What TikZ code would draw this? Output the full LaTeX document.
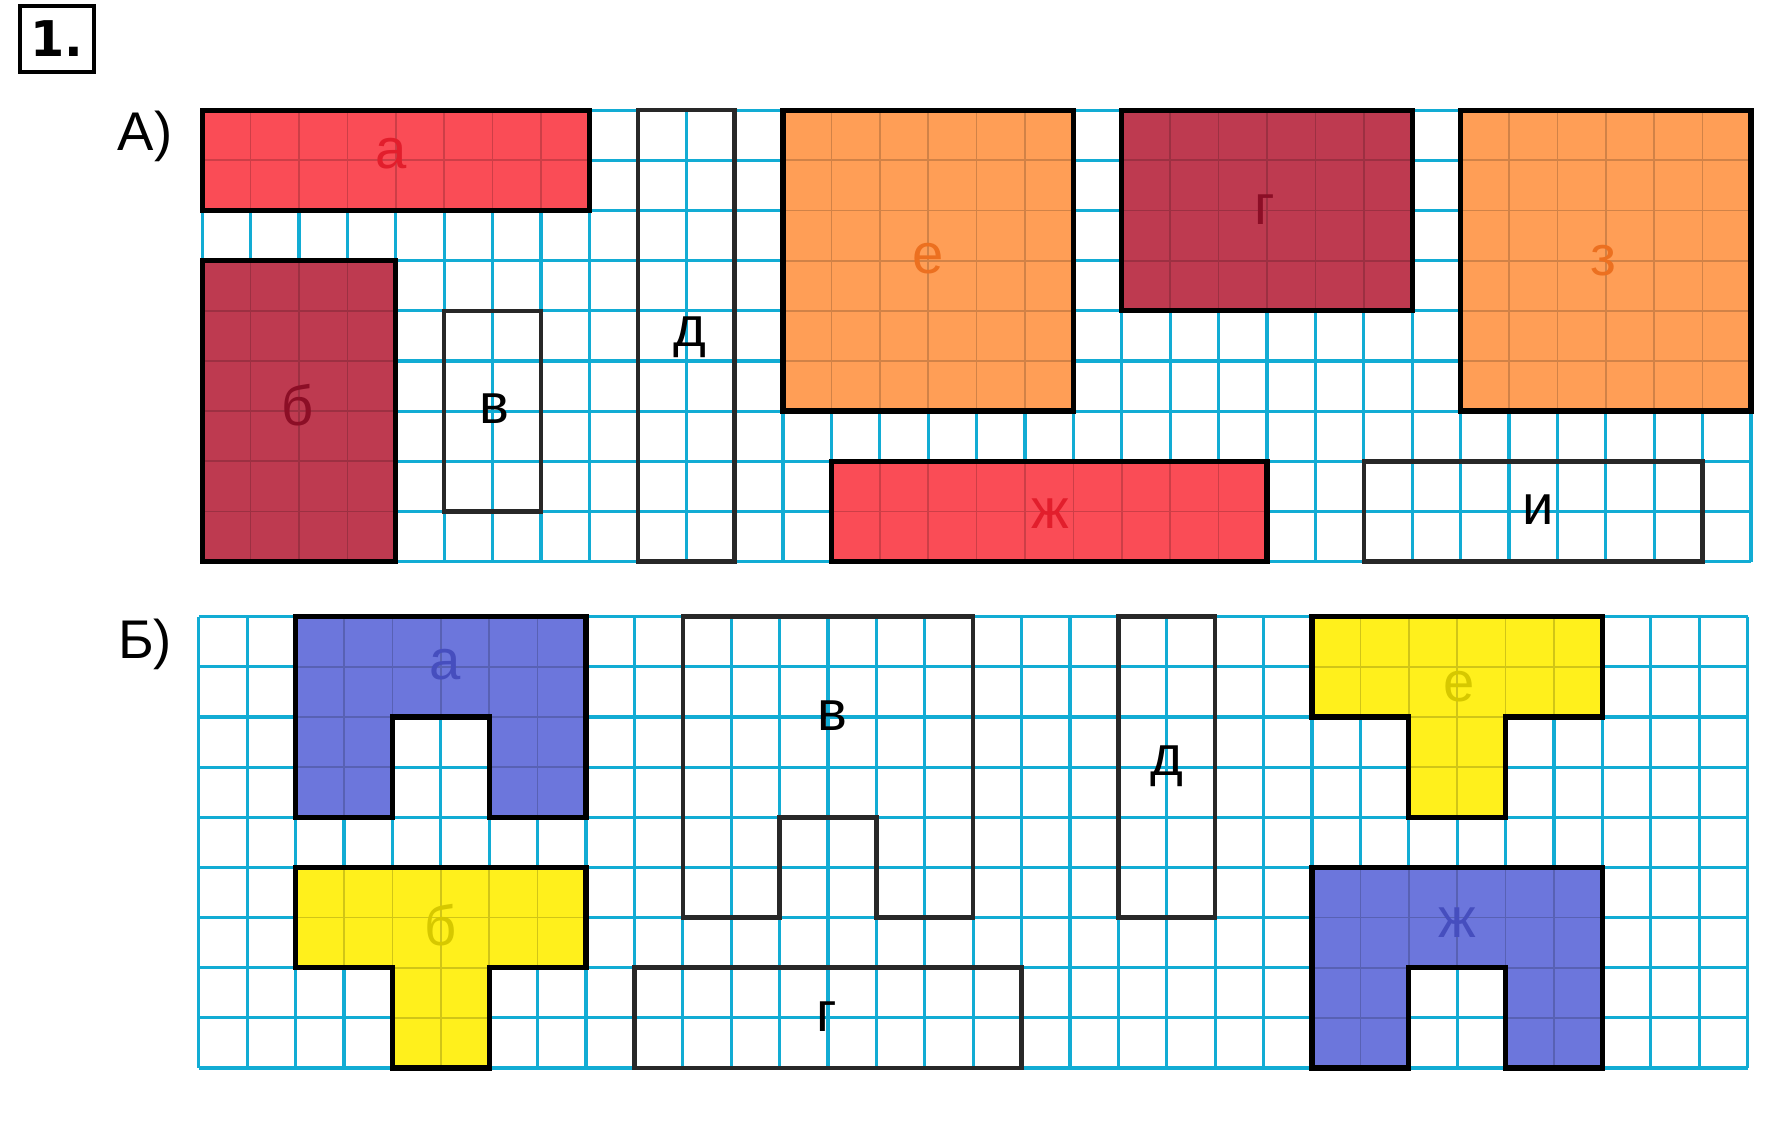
\documentclass[tikz,border=0pt]{standalone}
\usepackage{fontspec}
\setmainfont{Liberation Sans}
\newfontfamily\numfont{DejaVu Sans}

\definecolor{gridcyan}{RGB}{18,172,212}
\definecolor{figred}{RGB}{250,76,86}
\definecolor{figwine}{RGB}{190,58,80}
\definecolor{figorange}{RGB}{255,158,86}
\definecolor{figblue}{RGB}{108,118,220}
\definecolor{figyellow}{RGB}{255,240,28}
\definecolor{labred}{RGB}{226,30,44}
\definecolor{labwine}{RGB}{140,14,38}
\definecolor{laborange}{RGB}{236,112,32}
\definecolor{labblue}{RGB}{70,78,190}
\definecolor{labyellow}{RGB}{214,200,0}
\definecolor{outlinegray}{RGB}{40,40,40}

\tikzset{
  gridline/.style={gridcyan,line width=0.9pt},
  piece/.style={black,line width=1.5pt,line join=miter},
  blank/.style={outlinegray,line width=1.3pt,line join=miter},
  tag/.style={font=\fontsize{16}{18}\selectfont,inner sep=0pt},
  part/.style={font=\fontsize{15.5}{17}\selectfont,inner sep=0pt}
}

% the squared paper, 32 x 9 cells
\newcommand{\papergrid}{%
  \foreach \i in {0,...,32} \draw[gridline] (\i,0) -- (\i,9);
  \foreach \j in {0,...,9} \draw[gridline] (0,\j) -- (32,\j);
}

% coloured piece: fill, darker cells inside, black border
\newcommand{\colpiece}[2]{%
  \fill[#1] #2 -- cycle;
  \begin{scope}
    \clip #2 -- cycle;
    \foreach \i in {0,...,32} \draw[#1!82!black,line width=0.5pt] (\i,0) -- (\i,9);
    \foreach \j in {0,...,9} \draw[#1!82!black,line width=0.5pt] (0,\j) -- (32,\j);
  \end{scope}
  \draw[piece] #2 -- cycle;
}

\begin{document}
\begin{tikzpicture}
	\useasboundingbox (0,0) rectangle (17.81,-11.31);
	\node[draw,line width=1.2pt,minimum width=0.74cm,minimum height=0.66cm,inner sep=0pt,
		font=\numfont\bfseries\fontsize{14}{16}\selectfont] (num) at (0.57,-0.39) {1.};
	\node[part] (partA) at (1.45,-1.36) {А)};
	\node[part] (partB) at (1.45,-6.44) {Б)};

	% part A
	\begin{scope}[shift={(2.022cm,-1.102cm)},x=0.484cm,y=-0.5015cm]
		\papergrid
		\colpiece{figred}{(0,0) -- (8,0) -- (8,2) -- (0,2)}
		\colpiece{figwine}{(0,3) -- (4,3) -- (4,9) -- (0,9)}
		\draw[blank] (5,4) rectangle (7,8);
		\draw[blank] (9,0) rectangle (11,9);
		\colpiece{figorange}{(12,0) -- (18,0) -- (18,6) -- (12,6)}
		\colpiece{figwine}{(19,0) -- (25,0) -- (25,4) -- (19,4)}
		\colpiece{figorange}{(26,0) -- (32,0) -- (32,6) -- (26,6)}
		\colpiece{figred}{(13,7) -- (22,7) -- (22,9) -- (13,9)}
		\draw[blank] (24,7) rectangle (31,9);
		\begin{scope}[every node/.style={tag}]
			\node[labred] (Aa) at (3.9,0.86) {а};
			\node[labwine] (Ab) at (1.97,5.89) {б};
			\node (Av) at (6.04,5.96) {в};
			\node (Ad) at (10.07,4.53) {д};
			\node[laborange] (Ae) at (15,2.95) {е};
			\node[labwine] (Ag) at (21.95,1.99) {г};
			\node[laborange] (Az) at (28.96,2.99) {з};
			\node[labred] (Azh) at (17.53,8.04) {ж};
			\node (Ai) at (27.6,7.97) {и};
		\end{scope}
	\end{scope}

	% part B
	\begin{scope}[shift={(1.988cm,-6.167cm)},x=0.484cm,y=-0.5015cm]
		\papergrid
		\colpiece{figblue}{(2,0) -- (8,0) -- (8,4) -- (6,4) -- (6,2) -- (4,2) -- (4,4) -- (2,4)}
		\colpiece{figyellow}{(2,5) -- (8,5) -- (8,7) -- (6,7) -- (6,9) -- (4,9) -- (4,7) -- (2,7)}
		\draw[blank] (10,0) -- (16,0) -- (16,6) -- (14,6) -- (14,4) -- (12,4) -- (12,6) -- (10,6) -- cycle;
		\draw[blank] (9,7) rectangle (17,9);
		\draw[blank] (19,0) rectangle (21,6);
		\colpiece{figyellow}{(23,0) -- (29,0) -- (29,2) -- (27,2) -- (27,4) -- (25,4) -- (25,2) -- (23,2)}
		\colpiece{figblue}{(23,5) -- (29,5) -- (29,9) -- (27,9) -- (27,7) -- (25,7) -- (25,9) -- (23,9)}
		\begin{scope}[every node/.style={tag}]
			\node[labblue] (Ba) at (5.09,0.95) {а};
			\node[labyellow] (Bb) at (5,6.16) {б};
			\node (Bv) at (13.09,1.97) {в};
			\node (Bg) at (12.98,7.97) {г};
			\node (Bd) at (20,2.99) {д};
			\node[labyellow] (Be) at (26.05,1.4) {е};
			\node[labblue] (Bzh) at (26,6.1) {ж};
		\end{scope}
	\end{scope}
\end{tikzpicture}
\end{document}
